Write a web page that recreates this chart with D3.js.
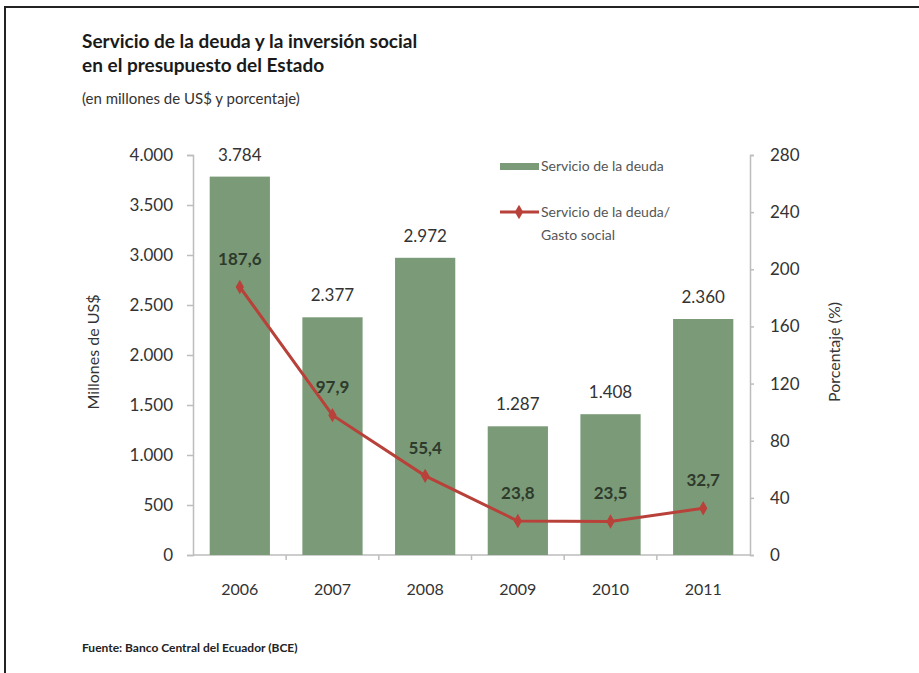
<!DOCTYPE html>
<html>
<head>
<meta charset="utf-8">
<script src="https://cdn.jsdelivr.net/npm/d3@7"></script>
<style>
  body { margin: 0; background: #fff; }
  text { font-family: Lato, "Open Sans", sans-serif; }
</style>
</head>
<body>
<div id="chart"></div>
<script>
// Data

const years = ['2006', '2007', '2008', '2009', '2010', '2011'];
const debtService = [3784, 2377, 2972, 1287, 1408, 2360];
const debtToSocial = [187.6, 97.9, 55.4, 23.8, 23.5, 32.7];
const leftTicks = [0, 500, 1000, 1500, 2000, 2500, 3000, 3500, 4000];
const rightTicks = [0, 40, 80, 120, 160, 200, 240, 280];

const width = 919;
const height = 673;

// Plot box
const plot = { left: 193, right: 750, top: 155, bottom: 555 };

const barColor = '#7b9b78';
const lineColor = '#b8413a';
const axisColor = '#bdbdbd';
const textColor = '#333';

// Spanish number format: 3.784 and 187,6
const es = d3.formatLocale({ decimal: ',', thousands: '.', grouping: [3], currency: ['$', ''] });
const fmtInt = es.format(',d');
const fmtDec = es.format(',.1f');

const svg = d3.select('#chart').append('svg')
  .attr('width', width)
  .attr('height', height);

svg.append('rect').attr('width', width).attr('height', height).attr('fill', '#fff');

// Frame (only top and left edges are visible in the picture)
svg.append('path')
  .attr('d', `M5,${height} V7 H${width}`)
  .attr('fill', 'none')
  .attr('stroke', '#222')
  .attr('stroke-width', 2);

// Titles
svg.append('text').attr('x', 82).attr('y', 48)
  .attr('font-size', 19).attr('font-weight', 'bold').attr('fill', '#1a1a1a')
  .text('Servicio de la deuda y la inversión social');
svg.append('text').attr('x', 82).attr('y', 72)
  .attr('font-size', 19).attr('font-weight', 'bold').attr('fill', '#1a1a1a')
  .text('en el presupuesto del Estado');
svg.append('text').attr('x', 82).attr('y', 104)
  .attr('font-size', 15).attr('fill', '#333')
  .text('(en millones de US$ y porcentaje)');

// Scales

const xScale = d3.scaleBand()
  .domain(years)
  .range([plot.left, plot.right])
  .paddingInner(0.35)
  .paddingOuter(0.18);

const yLeft = d3.scaleLinear().domain([0, 4000]).range([plot.bottom, plot.top]);
const yRight = d3.scaleLinear().domain([0, 280]).range([plot.bottom, plot.top]);

// Axes

const leftAxis = d3.axisLeft(yLeft).tickValues(leftTicks).tickFormat(fmtInt)
  .tickSize(6).tickPadding(14);
const rightAxis = d3.axisRight(yRight).tickValues(rightTicks)
  .tickSize(4).tickPadding(16);

const leftG = svg.append('g').attr('transform', `translate(${plot.left},0)`).call(leftAxis);
const rightG = svg.append('g').attr('transform', `translate(${plot.right},0)`).call(rightAxis);

[leftG, rightG].forEach(g => {
  g.select('.domain').attr('stroke', axisColor).attr('stroke-width', 1.5);
  g.selectAll('.tick line').attr('stroke', axisColor).attr('stroke-width', 1.5);
  g.selectAll('.tick text')
    .attr('font-family', 'Lato, "Open Sans", sans-serif')
    .attr('font-size', 17).attr('fill', textColor);
});

// x axis: baseline with ticks between categories
const xAxisG = svg.append('g');
xAxisG.append('line')
  .attr('x1', plot.left).attr('x2', plot.right)
  .attr('y1', plot.bottom).attr('y2', plot.bottom)
  .attr('stroke', axisColor).attr('stroke-width', 1.5);
xAxisG.selectAll('line.sep')
  .data(years.slice(1))
  .enter().append('line')
  .attr('class', 'sep')
  .attr('x1', d => xScale(d) - xScale.step() * xScale.paddingInner() / 2)
  .attr('x2', d => xScale(d) - xScale.step() * xScale.paddingInner() / 2)
  .attr('y1', plot.bottom).attr('y2', plot.bottom + 5)
  .attr('stroke', axisColor).attr('stroke-width', 1.5);
xAxisG.selectAll('text')
  .data(years)
  .enter().append('text')
  .attr('x', d => xScale(d) + xScale.bandwidth() / 2)
  .attr('y', 595)
  .attr('text-anchor', 'middle')
  .attr('font-size', 16).attr('fill', textColor)
  .text(d => d);

// Axis titles
svg.append('text')
  .attr('transform', `translate(99,352) rotate(-90)`)
  .attr('text-anchor', 'middle')
  .attr('font-size', 16).attr('fill', textColor)
  .text('Millones de US$');
svg.append('text')
  .attr('transform', `translate(840,352) rotate(-90)`)
  .attr('text-anchor', 'middle')
  .attr('font-size', 16).attr('fill', textColor)
  .text('Porcentaje (%)');

// Bars
svg.append('g').selectAll('rect')
  .data(debtService)
  .enter().append('rect')
  .attr('x', (d, i) => xScale(years[i]))
  .attr('y', d => yLeft(d))
  .attr('width', xScale.bandwidth())
  .attr('height', d => plot.bottom - yLeft(d))
  .attr('fill', barColor);

svg.append('g').selectAll('text')
  .data(debtService)
  .enter().append('text')
  .attr('x', (d, i) => xScale(years[i]) + xScale.bandwidth() / 2)
  .attr('y', d => yLeft(d) - 16)
  .attr('text-anchor', 'middle')
  .attr('font-size', 17).attr('fill', textColor)
  .text(d => fmtInt(d));

// Line
const cx = i => xScale(years[i]) + xScale.bandwidth() / 2;

const line = d3.line()
  .x((d, i) => cx(i))
  .y(d => yRight(d));

svg.append('path')
  .datum(debtToSocial)
  .attr('d', line)
  .attr('fill', 'none')
  .attr('stroke', lineColor)
  .attr('stroke-width', 3);

const diamond = d3.symbol().type(d3.symbolDiamond).size(60);

svg.append('g').selectAll('path')
  .data(debtToSocial)
  .enter().append('path')
  .attr('d', diamond)
  .attr('transform', (d, i) => `translate(${cx(i)},${yRight(d)})`)
  .attr('fill', lineColor);

svg.append('g').selectAll('text')
  .data(debtToSocial)
  .enter().append('text')
  .attr('x', (d, i) => cx(i))
  .attr('y', d => yRight(d) - 22)
  .attr('text-anchor', 'middle')
  .attr('font-size', 17).attr('font-weight', 'bold').attr('fill', '#2e3a2c')
  .text(d => fmtDec(d));

// Legend
const legend = svg.append('g');
legend.append('rect')
  .attr('x', 500).attr('y', 163).attr('width', 39).attr('height', 7)
  .attr('fill', barColor);
legend.append('text')
  .attr('x', 541).attr('y', 171)
  .attr('font-size', 14).attr('fill', '#555')
  .text('Servicio de la deuda');
legend.append('line')
  .attr('x1', 500).attr('x2', 539).attr('y1', 212).attr('y2', 212)
  .attr('stroke', lineColor).attr('stroke-width', 3);
legend.append('path')
  .attr('d', diamond)
  .attr('transform', 'translate(519,212)')
  .attr('fill', lineColor);
legend.append('text')
  .attr('x', 541).attr('y', 217)
  .attr('font-size', 14).attr('fill', '#555')
  .text('Servicio de la deuda/');
legend.append('text')
  .attr('x', 541).attr('y', 240)
  .attr('font-size', 14).attr('fill', '#555')
  .text('Gasto social');

// Source note
svg.append('text').attr('x', 82).attr('y', 652)
  .attr('font-size', 12).attr('font-weight', 'bold').attr('fill', '#222')
  .text('Fuente: Banco Central del Ecuador (BCE)');
</script>
</body>
</html>
